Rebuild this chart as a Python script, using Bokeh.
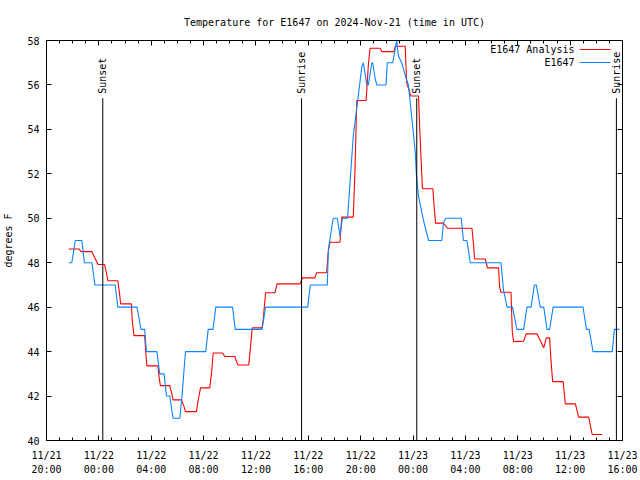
import pandas as pd
from math import pi
from bokeh.plotting import figure
from bokeh.models import (DatetimeTickFormatter, FixedTicker, LinearAxis, DatetimeAxis,
                          Range1d, Label, Arrow, ColumnDataSource, CustomJSTickFormatter)
from bokeh.core.properties import value
from bokeh.embed import file_html
from bokeh.resources import INLINE

FONT = "DejaVu Sans Mono"
FS = "10px"

title_text = "Temperature for E1647 on 2024-Nov-21 (time in UTC)"
y_label = "degrees F"
series_names = ["E1647 Analysis", "E1647"]
series_colors = ["#ff0000", "#0a84ff"]

# ---- data (time UTC, degrees F) ----
blue_times = [
    "2024-11-21 21:42", "2024-11-21 21:56", "2024-11-21 22:12", "2024-11-21 22:42", "2024-11-21 22:54",
    "2024-11-21 23:28", "2024-11-21 23:42", "2024-11-22 01:15", "2024-11-22 01:27", "2024-11-22 02:55",
    "2024-11-22 03:13", "2024-11-22 03:30", "2024-11-22 03:38", "2024-11-22 04:26", "2024-11-22 04:39",
    "2024-11-22 04:59", "2024-11-22 05:10", "2024-11-22 05:25", "2024-11-22 05:40", "2024-11-22 06:11",
    "2024-11-22 06:21", "2024-11-22 06:37", "2024-11-22 08:10", "2024-11-22 08:21", "2024-11-22 08:43",
    "2024-11-22 08:56", "2024-11-22 10:13", "2024-11-22 10:25", "2024-11-22 12:28", "2024-11-22 12:44",
    "2024-11-22 15:57", "2024-11-22 16:09", "2024-11-22 17:27", "2024-11-22 17:32", "2024-11-22 17:54",
    "2024-11-22 18:13", "2024-11-22 18:25", "2024-11-22 18:36", "2024-11-22 19:00", "2024-11-22 19:26",
    "2024-11-22 19:49", "2024-11-22 20:05", "2024-11-22 20:12", "2024-11-22 20:28", "2024-11-22 20:35",
    "2024-11-22 20:51", "2024-11-22 20:55", "2024-11-22 21:06", "2024-11-22 21:14", "2024-11-22 21:56",
    "2024-11-22 22:02", "2024-11-22 22:27", "2024-11-22 22:45", "2024-11-22 22:53", "2024-11-22 23:08",
    "2024-11-22 23:28", "2024-11-22 23:39", "2024-11-23 00:10", "2024-11-23 00:15", "2024-11-23 00:25",
    "2024-11-23 00:48", "2024-11-23 01:11", "2024-11-23 02:12", "2024-11-23 02:19", "2024-11-23 02:30",
    "2024-11-23 03:41", "2024-11-23 03:51", "2024-11-23 04:07", "2024-11-23 04:22", "2024-11-23 06:43",
    "2024-11-23 06:55", "2024-11-23 07:11", "2024-11-23 07:36", "2024-11-23 07:56", "2024-11-23 08:27",
    "2024-11-23 08:42", "2024-11-23 09:01", "2024-11-23 09:16", "2024-11-23 09:25", "2024-11-23 09:43",
    "2024-11-23 09:59", "2024-11-23 10:14", "2024-11-23 10:26", "2024-11-23 10:42", "2024-11-23 12:59",
    "2024-11-23 13:15", "2024-11-23 13:27", "2024-11-23 13:45", "2024-11-23 15:13", "2024-11-23 15:23",
    "2024-11-23 15:46",
]
blue_vals = [
    48, 48, 49, 49, 48,
    48, 47, 47, 46, 46,
    45, 45, 44, 44, 43,
    43, 42, 42, 41, 41,
    42, 44, 44, 45, 45,
    46, 46, 45, 45, 46,
    46, 47, 47, 48.6, 50,
    50, 49.2, 50, 50, 53.7,
    55.5, 56.8, 57, 56, 56,
    57, 57, 56.3, 56, 56,
    57, 57, 58, 57.3, 57,
    56.3, 56, 53, 52, 51,
    49.9, 49, 49, 49.8, 50,
    50, 49, 49, 48, 48,
    46.75, 46, 46, 45, 45,
    46, 46, 47, 47, 46,
    46, 45, 45, 46, 46,
    45, 45, 44, 44, 45,
    45,
]

red_times = [
    "2024-11-21 21:42", "2024-11-21 22:28", "2024-11-21 22:39", "2024-11-21 23:28", "2024-11-21 23:40",
    "2024-11-21 23:56", "2024-11-22 00:26", "2024-11-22 00:34", "2024-11-22 00:41", "2024-11-22 01:27",
    "2024-11-22 01:35", "2024-11-22 01:40", "2024-11-22 02:29", "2024-11-22 02:33", "2024-11-22 02:41",
    "2024-11-22 03:30", "2024-11-22 03:35", "2024-11-22 03:40", "2024-11-22 04:31", "2024-11-22 04:36",
    "2024-11-22 04:42", "2024-11-22 05:25", "2024-11-22 05:33", "2024-11-22 05:40", "2024-11-22 06:18",
    "2024-11-22 06:29", "2024-11-22 06:37", "2024-11-22 07:27", "2024-11-22 07:35", "2024-11-22 07:46",
    "2024-11-22 08:28", "2024-11-22 08:36", "2024-11-22 08:44", "2024-11-22 09:27", "2024-11-22 09:37",
    "2024-11-22 10:23", "2024-11-22 10:37", "2024-11-22 11:27", "2024-11-22 11:32", "2024-11-22 11:43",
    "2024-11-22 12:28", "2024-11-22 12:33", "2024-11-22 12:44", "2024-11-22 13:27", "2024-11-22 13:37",
    "2024-11-22 15:22", "2024-11-22 15:34", "2024-11-22 16:30", "2024-11-22 16:38", "2024-11-22 17:24",
    "2024-11-22 17:31", "2024-11-22 17:39", "2024-11-22 18:25", "2024-11-22 18:33", "2024-11-22 19:26",
    "2024-11-22 19:34", "2024-11-22 19:42", "2024-11-22 20:25", "2024-11-22 20:35", "2024-11-22 20:43",
    "2024-11-22 21:29", "2024-11-22 21:37", "2024-11-22 22:33", "2024-11-22 22:38", "2024-11-22 23:24",
    "2024-11-22 23:31", "2024-11-22 23:50", "2024-11-23 00:25", "2024-11-23 00:32", "2024-11-23 00:43",
    "2024-11-23 01:31", "2024-11-23 01:37", "2024-11-23 01:43", "2024-11-23 02:19", "2024-11-23 02:38",
    "2024-11-23 04:30", "2024-11-23 04:37", "2024-11-23 04:42", "2024-11-23 05:31", "2024-11-23 05:41",
    "2024-11-23 06:32", "2024-11-23 06:37", "2024-11-23 06:43", "2024-11-23 07:29", "2024-11-23 07:35",
    "2024-11-23 07:41", "2024-11-23 08:27", "2024-11-23 08:38", "2024-11-23 09:28", "2024-11-23 09:43",
    "2024-11-23 09:59", "2024-11-23 10:11", "2024-11-23 10:26", "2024-11-23 10:32", "2024-11-23 10:40",
    "2024-11-23 11:28", "2024-11-23 11:38", "2024-11-23 12:24", "2024-11-23 12:39", "2024-11-23 13:25",
    "2024-11-23 13:41", "2024-11-23 14:27",
]
red_vals = [
    48.62, 48.62, 48.5, 48.5, 48.25,
    47.92, 47.92, 47.57, 47.19, 47.19,
    46.6, 46.15, 46.15, 45.4, 44.72,
    44.72, 43.97, 43.36, 43.36, 42.85,
    42.47, 42.47, 42.17, 41.83, 41.83,
    41.57, 41.3, 41.3, 41.8, 42.37,
    42.37, 43.0, 43.94, 43.94, 43.78,
    43.78, 43.4, 43.4, 43.9, 45.07,
    45.07, 45.4, 46.65, 46.65, 47.05,
    47.05, 47.32, 47.32, 47.55, 47.55,
    48.47, 48.92, 48.92, 50.05, 50.05,
    52.2, 55.3, 55.3, 56.88, 57.65,
    57.65, 57.5, 57.5, 57.74, 57.74,
    56.1, 55.5, 55.5, 53.7, 51.33,
    51.33, 50.5, 49.78, 49.78, 49.55,
    49.55, 48.85, 48.17, 48.17, 47.77,
    47.77, 46.9, 46.67, 46.67, 44.87,
    44.45, 44.47, 44.8, 44.8, 44.5,
    44.17, 44.62, 44.62, 43.63, 42.65,
    42.65, 41.65, 41.65, 41.05, 41.05,
    40.27, 40.27,
]

sun_times = ["2024-11-22 00:18", "2024-11-22 15:29", "2024-11-23 00:17", "2024-11-23 15:32"]
sun_labels = ["Sunset", "Sunrise", "Sunset", "Sunrise"]
sun_line_top = 55.4
sun_text_base = 55.6

x_start = "2024-11-21 20:00"
x_end = "2024-11-23 16:00"
y_min, y_max, y_step = 40, 58, 2

# ---- figure ----
xs = pd.Timestamp(x_start)
xe = pd.Timestamp(x_end)

p = figure(width=640, height=480, x_axis_type=None, output_backend="svg",
           toolbar_location=None, x_range=Range1d(xs, xe), y_range=Range1d(y_min, y_max),
           min_border_left=46, min_border_right=18, min_border_top=40, min_border_bottom=40)
p.xgrid.visible = False
p.ygrid.visible = False
p.outline_line_color = "black"
p.outline_line_width = 1
p.background_fill_color = "white"
p.border_fill_color = "white"

def ms(t):
    return pd.Timestamp(t).value // 10**6

major = [ms(xs + pd.Timedelta(hours=4 * i)) for i in range(12)]
minor = [ms(xs + pd.Timedelta(hours=i)) for i in range(45)]
xticker = FixedTicker(ticks=major, minor_ticks=minor)

def dt_fmt(f):
    return DatetimeTickFormatter(microseconds=f, milliseconds=f, seconds=f, minsec=f,
                                 minutes=f, hourmin=f, hours=f, days=f, months=f, years=f)

blank = CustomJSTickFormatter(code="return ''")
yticker = FixedTicker(ticks=list(range(y_min, y_max + 1, y_step)), minor_ticks=[])

def style_axis(ax):
    ax.axis_line_color = "black"
    ax.major_tick_line_color = "black"
    ax.minor_tick_line_color = "black"
    ax.major_tick_in = 5
    ax.major_tick_out = 0
    ax.minor_tick_in = 3
    ax.minor_tick_out = 0
    ax.major_label_text_font = FONT
    ax.major_label_text_font_size = FS
    ax.major_label_text_color = "black"

# bottom: date line (with ticks) and time line (no ticks)
bottom1 = DatetimeAxis(ticker=xticker, formatter=dt_fmt("%m/%d"))
style_axis(bottom1)
bottom1.major_label_standoff = 9
p.add_layout(bottom1, "below")

bottom2 = DatetimeAxis(ticker=xticker, formatter=dt_fmt("%H:%M"))
style_axis(bottom2)
bottom2.axis_line_color = None
bottom2.major_tick_line_color = None
bottom2.minor_tick_line_color = None
bottom2.major_tick_in = 0
bottom2.minor_tick_in = 0
bottom2.major_label_standoff = 0
p.add_layout(bottom2, "below")

ya = p.yaxis[0]
ya.ticker = yticker
style_axis(ya)
ya.major_label_standoff = 7
ya.axis_label = y_label
ya.axis_label_text_font = FONT
ya.axis_label_text_font_size = FS
ya.axis_label_text_font_style = "normal"
ya.axis_label_text_color = "black"
ya.axis_label_standoff = 10

top = DatetimeAxis(ticker=xticker, formatter=blank)
style_axis(top)
top.major_label_standoff = 0
p.add_layout(top, "above")

right = LinearAxis(ticker=yticker, formatter=blank)
style_axis(right)
right.major_label_standoff = 0
p.add_layout(right, "right")

p.title.text = title_text
p.title.align = "center"
p.title.text_font = FONT
p.title.text_font_size = FS
p.title.text_font_style = "normal"
p.title.text_color = "black"
p.title.standoff = 26

# ---- series ----
red_src = ColumnDataSource(dict(t=pd.to_datetime(red_times), v=red_vals))
blue_src = ColumnDataSource(dict(t=pd.to_datetime(blue_times), v=blue_vals))
p.line("t", "v", source=red_src, line_color=series_colors[0], line_width=1.1)
p.line("t", "v", source=blue_src, line_color=series_colors[1], line_width=1.1)

# ---- sunrise / sunset ----
st = pd.to_datetime(sun_times)
p.segment(x0=st, y0=[y_min] * len(st), x1=st, y1=[sun_line_top] * len(st),
          line_color="black", line_width=1)
p.text(x=st, y=[sun_text_base] * len(st), text=sun_labels, angle=pi / 2,
       text_align="left", text_baseline="middle", text_font=value(FONT),
       text_font_size=value(FS), text_color="black")

# ---- legend (gnuplot style: text then sample), frame-relative screen units ----
for i, (name, col) in enumerate(zip(series_names, series_colors)):
    yy = 391 - 13 * i
    p.add_layout(Label(x=528, y=yy, x_units="screen", y_units="screen", text=name,
                       text_align="right", text_baseline="middle", text_font=FONT,
                       text_font_size=FS, text_color="black"))
    p.add_layout(Arrow(end=None, x_start=533, y_start=yy, x_end=564, y_end=yy,
                       start_units="screen", end_units="screen", line_color=col, line_width=1.1))

open("out.html", "w").write(file_html(p, INLINE))
